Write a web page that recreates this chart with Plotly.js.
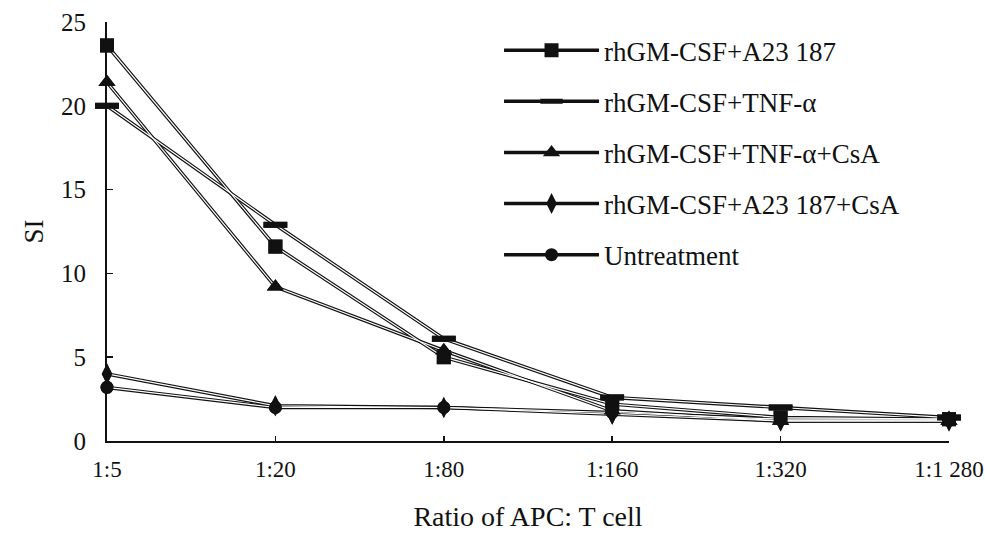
<!DOCTYPE html>
<html>
<head>
<meta charset="utf-8">
<script src="https://cdn.plot.ly/plotly-3.0.1.min.js"></script>
<style>html,body{margin:0;padding:0;background:#fff;}#chart{width:985px;height:534px;}</style>
</head>
<body>
<div id="chart"></div>
<script>
const ratios = ["1:5", "1:20", "1:80", "1:160", "1:320", "1:1 280"];
const seriesNames = ["rhGM-CSF+A23 187", "rhGM-CSF+TNF-α", "rhGM-CSF+TNF-α+CsA", "rhGM-CSF+A23 187+CsA", "Untreatment"];
const siA23 = [23.6, 11.6, 5.0, 2.2, 1.4, 1.3];
const siTNF = [20.0, 12.9, 6.1, 2.6, 2.0, 1.4];
const siTNFCsA = [21.4, 9.2, 5.4, 1.8, 1.2, 1.2];
const siA23CsA = [4.0, 2.1, 2.0, 1.6, 1.2, 1.2];
const siUntreat = [3.2, 2.0, 2.0, 1.7, 1.3, 1.3];

const allSeries = [siA23, siTNF, siTNFCsA, siA23CsA, siUntreat];
const markerStyles = [
  {symbol: "square", size: 14, color: "#111", line: {width: 0}},
  {symbol: "line-ew", size: 17, color: "#111", line: {width: 6, color: "#111"}},
  {symbol: "triangle-up", size: 15, color: "#111", line: {width: 0}},
  {symbol: "diamond-tall", size: 15, color: "#111", line: {width: 0}},
  {symbol: "circle", size: 13, color: "#111", line: {width: 0}}
];

const traces = [];
allSeries.forEach((ys, i) => {
  traces.push({
    x: ratios, y: ys, name: seriesNames[i], type: "scatter", mode: "lines+markers",
    line: {color: "#111", width: 3.5}, marker: markerStyles[i],
    legendgroup: "g" + i, showlegend: true, cliponaxis: false, hoverinfo: "skip"
  });
});
allSeries.forEach((ys, i) => {
  traces.push({
    x: ratios, y: ys, type: "scatter", mode: "lines",
    line: {color: "#fff", width: 1.2}, legendgroup: "g" + i,
    showlegend: false, cliponaxis: false, hoverinfo: "skip"
  });
});
allSeries.forEach((ys, i) => {
  traces.push({
    x: ratios, y: ys, type: "scatter", mode: "markers",
    marker: markerStyles[i], legendgroup: "g" + i,
    showlegend: false, cliponaxis: false, hoverinfo: "skip"
  });
});

const serif = "Liberation Serif";
const layout = {
  width: 985, height: 534,
  margin: {l: 107, r: 36, t: 22, b: 93},
  paper_bgcolor: "#fff", plot_bgcolor: "#fff",
  font: {family: serif, color: "#111"},
  showlegend: true,
  legend: {
    x: 0.4656, y: 0.99, xanchor: "left", yanchor: "top",
    font: {family: serif, size: 27, color: "#111"},
    tracegroupgap: 13, traceorder: "grouped", bgcolor: "rgba(0,0,0,0)",
    itemwidth: 95
  },
  xaxis: {
    type: "category", categoryorder: "array", categoryarray: ratios,
    range: [0, 5], showgrid: false, zeroline: false,
    showline: true, linecolor: "#111", linewidth: 2,
    ticks: "inside", ticklen: 5, tickwidth: 1.5, tickcolor: "#111",
    tickfont: {family: serif, size: 23, color: "#111"},
    ticklabelstandoff: 6,
    title: {text: "Ratio of APC: T cell", font: {family: serif, size: 28, color: "#111"}, standoff: 26}
  },
  yaxis: {
    range: [0, 25], tickvals: [0, 5, 10, 15, 20, 25],
    showgrid: false, zeroline: false,
    showline: true, linecolor: "#111", linewidth: 2,
    ticks: "inside", ticklen: 6, tickwidth: 1.5, tickcolor: "#111",
    tickfont: {family: serif, size: 25, color: "#111"},
    ticklabelstandoff: 14,
    title: {text: "SI", font: {family: serif, size: 27, color: "#111"}, standoff: 10}
  }
};

Plotly.newPlot("chart", traces, layout, {staticPlot: true, displayModeBar: false});
</script>
</body>
</html>
